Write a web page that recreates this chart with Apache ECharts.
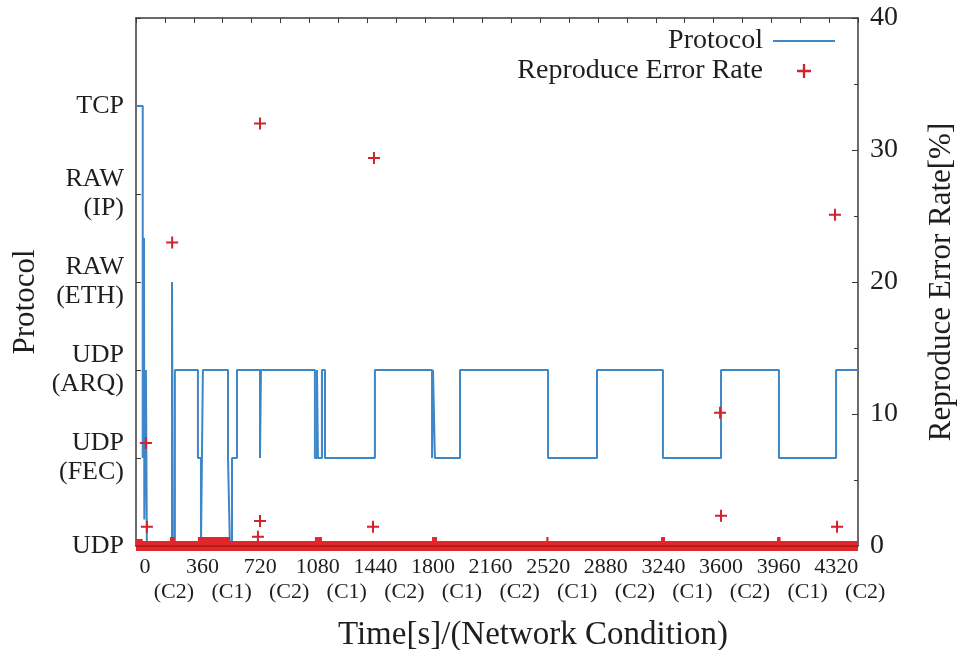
<!DOCTYPE html>
<html>
<head>
<meta charset="utf-8">
<script src="https://cdn.jsdelivr.net/npm/echarts@6/dist/echarts.min.js"></script>
<style>
html,body{margin:0;padding:0;background:#fff;}
#chart{width:957px;height:650px;}
</style>
</head>
<body>
<div id="chart"></div>
<script>
// ---- data ----
const protocolLevels = ['UDP', 'UDP\n(FEC)', 'UDP\n(ARQ)', 'RAW\n(ETH)', 'RAW\n(IP)', 'TCP'];
const timeTicks = [0, 360, 720, 1080, 1440, 1800, 2160, 2520, 2880, 3240, 3600, 3960, 4320];
// network condition of each 360 s interval starting at the tick above
const conditionLabels = ['(C2)', '(C1)', '(C2)', '(C1)', '(C2)', '(C1)', '(C2)', '(C1)', '(C2)', '(C1)', '(C2)', '(C1)', '(C2)'];

// protocol (step, value holds from time until next time) 0=UDP .. 5=TCP
const protoTime  = [-56, -14, -6, -4, 6, 12, 169, 174, 187, 331, 350, 362, 519, 531, 544, 575, 719, 725,
                    1062, 1075, 1081, 1106, 1125, 1437, 1794, 1800, 1812, 1969, 2519, 2825, 3237, 3600, 3962, 4319, 4456];
const protoLevel = [5, 1, 3.5, 0.3, 2, 0, 3, 0, 2, 1, 0, 2, 1, 0, 1, 2, 1, 2,
                    1, 2, 1, 2, 1, 2, 1, 2, 1, 2, 1, 2, 1, 2, 1, 2, 2];

// reproduce error rate [%]
const errTime = [6, 12, 170, 706, 719, 719, 1425, 1431, 3594, 3600, 4312, 4325];
const errRate = [7.8, 1.45, 23.0, 0.7, 1.9, 32.0, 1.45, 29.4, 10.1, 2.3, 25.1, 1.45];

// dense near-zero error band: baseline plus small raised stretches
const bandStart = [-56];
const bandEnd   = [4456];
const bumpStart = [-56, 156, 331, 1062, 1794, 2508, 3225, 3950];
const bumpEnd   = [-14, 187, 531, 1106, 1825, 2522, 3250, 3972];
const bumpLevel = [0.15, 0.3, 0.3, 0.3, 0.3, 0.3, 0.3, 0.3];

// ---- chart ----
const FONT = 'Liberation Serif';
const TXT = '#1e1e1e';
const AX = '#3a3a3a';
const RED = '#e3262b';
const plusPath = 'path://M5,0H7V5H12V7H7V12H5V7H0V5H5Z';
const linePath = 'path://M0,0H31V1H0Z';
const X_MIN = -56, X_MAX = 4456;

const protoData = protoTime.map((t, i) => [t, protoLevel[i]]);
const errData = errTime.map((t, i) => [t, errRate[i]]);

function segSeries(name, s, e, lvl, color, width, z) {
  return {
    name: name, type: 'line', xAxisIndex: 0, yAxisIndex: 1, symbol: 'none',
    clip: false, z: z, silent: true,
    data: [[s, lvl], [e, lvl]],
    lineStyle: {color: color, width: width, cap: 'butt'},
    itemStyle: {color: color}
  };
}

const series = [{
  name: 'Protocol', type: 'line', xAxisIndex: 0, yAxisIndex: 0,
  step: 'end', symbol: 'none', data: protoData, z: 2,
  lineStyle: {color: '#3d86c8', width: 2},
  itemStyle: {color: '#3d86c8'}
}];
bandStart.forEach((s, i) => series.push(segSeries('band' + i, s, bandEnd[i], 0, RED, 10, 3)));
bumpStart.forEach((s, i) => series.push(segSeries('bump' + i, s, bumpEnd[i], bumpLevel[i], RED, 10, 3)));
bandStart.forEach((s, i) => series.push(segSeries('bandc' + i, s, bandEnd[i], 0, '#a51b1e', 1.5, 4)));
series.push({
  name: 'Reproduce Error Rate', type: 'scatter', xAxisIndex: 0, yAxisIndex: 1,
  symbol: plusPath, symbolSize: 12, data: errData, z: 5,
  itemStyle: {color: '#d0232b', opacity: 1}
});

const chart = echarts.init(document.getElementById('chart'), null, {renderer: 'canvas'});
chart.setOption({
  animation: false,
  backgroundColor: '#fff',
  textStyle: {fontFamily: FONT, color: TXT},
  grid: [
    {left: 136, right: 99, top: 18, bottom: 104, containLabel: false, outerBoundsMode: 'none'},
    // same width shifted half an interval right: carries the condition labels centred in each interval
    {left: 165, right: 70, top: 18, bottom: 104, containLabel: false, outerBoundsMode: 'none', show: false}
  ],
  legend: {
    data: [{name: 'Protocol', icon: linePath}, {name: 'Reproduce Error Rate', icon: plusPath}],
    orient: 'vertical', align: 'right',
    right: 122, top: 27, padding: 0,
    itemWidth: 62, itemHeight: 14, itemGap: 2,
    textStyle: {fontFamily: FONT, fontSize: 28, color: TXT, lineHeight: 27, padding: [0, 5, 0, 0]}
  },
  xAxis: [{
    type: 'value', gridIndex: 0, position: 'bottom', min: X_MIN, max: X_MAX,
    axisLine: {onZero: false, lineStyle: {color: AX, width: 1.5}},
    axisTick: {show: true, inside: true, length: 5, customValues: timeTicks, lineStyle: {color: AX}},
    splitLine: {show: false},
    axisLabel: {
      customValues: timeTicks, margin: 9, color: TXT,
      fontFamily: FONT, fontSize: 22, lineHeight: 25,
      formatter: function (v) { return String(v); }
    },
    name: 'Time[s]/(Network Condition)', nameLocation: 'middle', nameGap: 73,
    nameTextStyle: {fontFamily: FONT, fontSize: 33, color: TXT, padding: [0, 0, 0, 72]}
  }, {
    type: 'value', gridIndex: 0, position: 'top', min: 0, max: 25, interval: 1,
    axisLine: {onZero: false, lineStyle: {color: AX, width: 1.5}},
    axisTick: {show: true, inside: true, length: 5, lineStyle: {color: AX}},
    axisLabel: {show: false},
    splitLine: {show: false}
  }, {
    type: 'value', gridIndex: 1, position: 'bottom', min: X_MIN, max: X_MAX,
    axisLine: {show: false, onZero: false},
    axisTick: {show: false},
    splitLine: {show: false},
    axisLabel: {
      customValues: timeTicks, margin: 34, color: TXT,
      fontFamily: FONT, fontSize: 22, lineHeight: 25,
      formatter: function (v) { return conditionLabels[timeTicks.indexOf(v)] || ''; }
    }
  }],
  yAxis: [{
    type: 'value', gridIndex: 0, position: 'left', min: 0, max: 6, interval: 1,
    axisLine: {show: true, onZero: false, lineStyle: {color: AX, width: 1.5}},
    axisTick: {show: true, inside: true, length: 5, lineStyle: {color: AX}},
    splitLine: {show: false},
    axisLabel: {
      margin: 12, fontFamily: FONT, fontSize: 26, lineHeight: 29, color: TXT, align: 'right',
      formatter: function (v) { return protocolLevels[v] || ''; }
    },
    name: 'Protocol', nameLocation: 'middle', nameRotate: 90, nameGap: 94,
    nameTextStyle: {fontFamily: FONT, fontSize: 31, color: TXT, padding: [0, 40, 0, 0]}
  }, {
    type: 'value', gridIndex: 0, position: 'right', min: 0, max: 40, interval: 10,
    axisLine: {show: true, onZero: false, lineStyle: {color: AX, width: 1.5}},
    axisTick: {show: true, inside: true, length: 6, lineStyle: {color: AX}},
    minorTick: {show: true, splitNumber: 2, length: 4, lineStyle: {color: AX}},
    splitLine: {show: false},
    axisLabel: {margin: 12, fontFamily: FONT, fontSize: 28, color: TXT},
    name: 'Reproduce Error Rate[%]', nameLocation: 'middle', nameRotate: 90, nameGap: 68,
    nameTextStyle: {fontFamily: FONT, fontSize: 31, color: TXT}
  }, {
    type: 'value', gridIndex: 1, min: 0, max: 1, show: false
  }],
  series: series
});
</script>
</body>
</html>
